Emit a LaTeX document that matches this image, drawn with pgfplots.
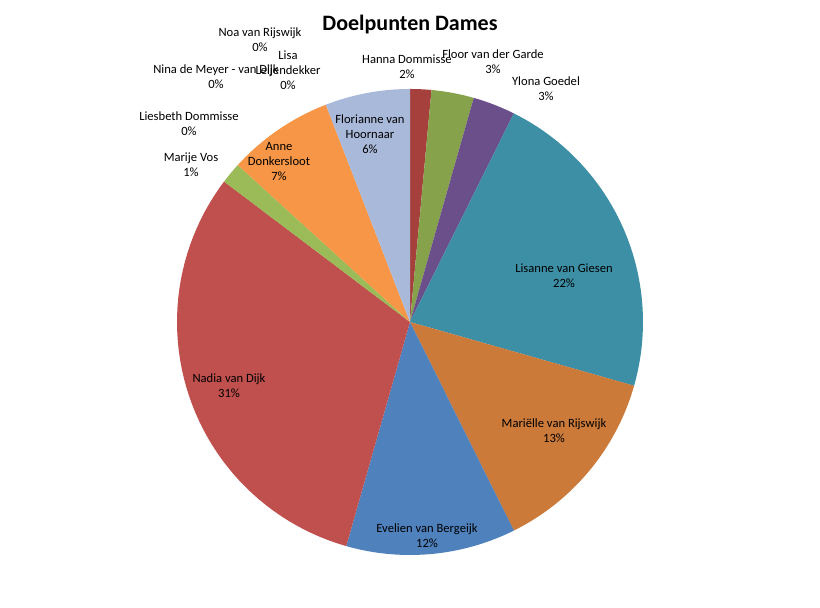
\documentclass[border=0pt]{standalone}
\usepackage{pgfplots}
\pgfplotsset{compat=1.18}
\usepackage{fontspec}
\setmainfont{Carlito}
\definecolor{cHanna}{HTML}{A5403D}
\definecolor{cFloor}{HTML}{86A24A}
\definecolor{cYlona}{HTML}{6A4F8A}
\definecolor{cLisanne}{HTML}{3D8FA6}
\definecolor{cMarielle}{HTML}{CB7A3A}
\definecolor{cEvelien}{HTML}{4F81BD}
\definecolor{cNadia}{HTML}{C0504D}
\definecolor{cMarije}{HTML}{9BBB59}
\definecolor{cAnne}{HTML}{F79646}
\definecolor{cFlor}{HTML}{A9B9DA}
% goals: Hanna 1, Floor 2, Ylona 2, Lisanne 15, Marielle 9, Evelien 8, Nadia 21, Marije 1, Liesbeth 0, Nina 0, Anne 5, Lisa 0, Noa 0, Florianne 4 (total 68)
\newcommand\slice[3]{\addplot[fill=#3,draw=none,samples at={-1,0,0.02,...,1.001}]
 ({x<0 ? 410 : 410+233*cos(90-360*(#1+(#2-#1)*x)/68)},
  {x<0 ? 286 : 286+233*sin(90-360*(#1+(#2-#1)*x)/68)});}
\tikzset{lbl/.style={font=\fontsize{6.3}{7.5}\selectfont,align=center,inner sep=0pt}}
\begin{document}
\begin{tikzpicture}
\begin{axis}[width=410pt,height=304pt,scale only axis,hide axis,
 xmin=0,xmax=820,ymin=0,ymax=608,clip=false]
\path (rel axis cs:0,0) rectangle (rel axis cs:1,1);
\slice{0}{1}{cHanna}
\slice{1}{3}{cFloor}
\slice{3}{5}{cYlona}
\slice{5}{20}{cLisanne}
\slice{20}{29}{cMarielle}
\slice{29}{37}{cEvelien}
\slice{37}{58}{cNadia}
\slice{58}{59}{cMarije}
\slice{59}{64}{cAnne}
\slice{64}{68}{cFlor}
\node[font=\fontsize{11}{13}\selectfont\bfseries] at (axis cs:410,583) {Doelpunten Dames};
\node[lbl] at (axis cs:407,541) {Hanna Dommisse\\2\%};
\node[lbl] at (axis cs:493,546) {Floor van der Garde\\3\%};
\node[lbl] at (axis cs:546,519) {Ylona Goedel\\3\%};
\node[lbl] at (axis cs:564,332) {Lisanne van Giesen\\22\%};
\node[lbl] at (axis cs:554,177) {Mariëlle van Rijswijk\\13\%};
\node[lbl] at (axis cs:427,72) {Evelien van Bergeijk\\12\%};
\node[lbl] at (axis cs:229,222) {Nadia van Dijk\\31\%};
\node[lbl] at (axis cs:191,443) {Marije Vos\\1\%};
\node[lbl] at (axis cs:189,484) {Liesbeth Dommisse\\0\%};
\node[lbl] at (axis cs:216,531) {Nina de Meyer - van Dijk\\0\%};
\node[lbl] at (axis cs:288,538) {Lisa\\Leijendekker\\0\%};
\node[lbl] at (axis cs:260,568) {Noa van Rijswijk\\0\%};
\node[lbl] at (axis cs:279,446) {Anne\\Donkersloot\\7\%};
\node[lbl] at (axis cs:370,474) {Florianne van\\Hoornaar\\6\%};
\end{axis}
\end{tikzpicture}
\end{document}
